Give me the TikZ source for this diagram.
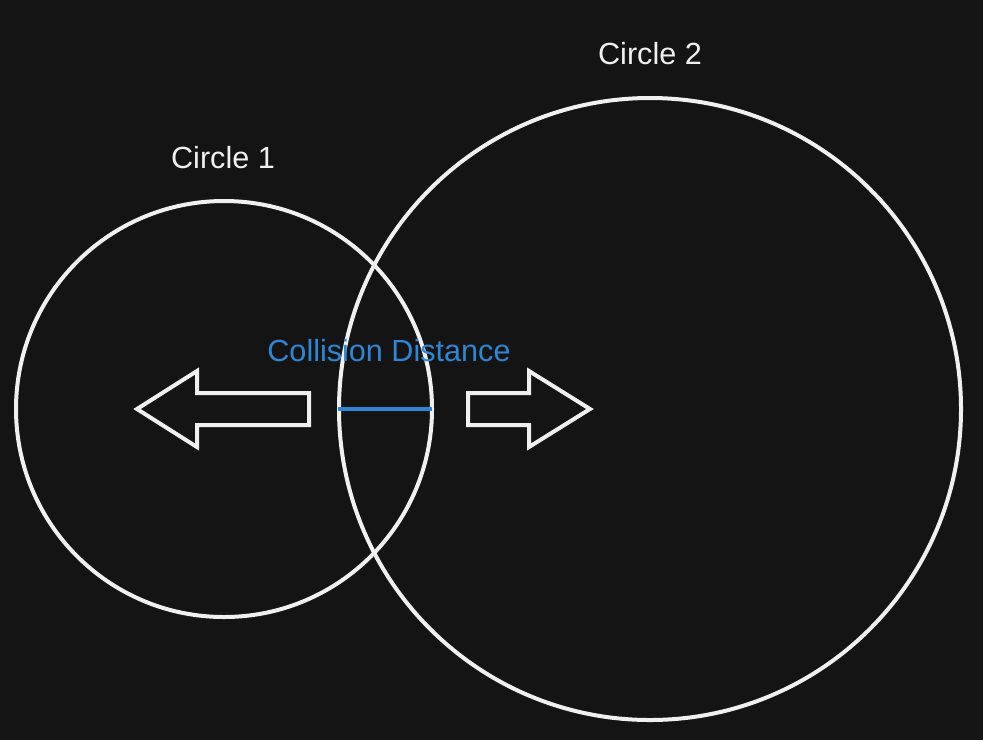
\documentclass[tikz,border=0pt]{standalone}
\usepackage{fontspec}
\setmainfont{Liberation Sans}
\usetikzlibrary{positioning}
\definecolor{bgdark}{HTML}{141414}
\definecolor{chalk}{HTML}{F0F0F0}
\definecolor{distblue}{HTML}{2F86D6}
\tikzset{
  ring/.style={draw=chalk, line width=2pt},
  push/.style={draw=chalk, line width=2pt, line join=miter},
  ringlabel/.style={text=chalk, font=\fontsize{15.3}{18}\selectfont},
}
\begin{document}
\begin{tikzpicture}[x=0.5pt,y=-0.5pt]
            % Background
            \fill[bgdark] (0,0) rectangle (983,740);
            \useasboundingbox (0,0) rectangle (983,740);
            
            % Circles
            \draw[ring] (224,409) circle [radius=208];
            \draw[ring] (650,409) circle [radius=311];
            \node[ringlabel] (lab1) at (223,158) {Circle 1};
            \node[ringlabel] (lab2) at (650,54) {Circle 2};
            
            % Push-apart arrows
            \draw[push] (137,409) -- (197,371) -- (197,393) -- (309,393) -- (309,425) -- (197,425) -- (197,447) -- cycle;
            \draw[push] (590,409) -- (529,371) -- (529,393) -- (468,393) -- (468,425) -- (529,425) -- (529,447) -- cycle;
            
            % Overlap distance
            \coordinate (dl) at (338,409);
            \coordinate (dr) at (432,409);
            \draw[distblue, line width=2pt] (dl) -- (dr);
            \node[ringlabel, text=distblue] (colltext) at (389,351) {Collision Distance};
\end{tikzpicture}
\end{document}
